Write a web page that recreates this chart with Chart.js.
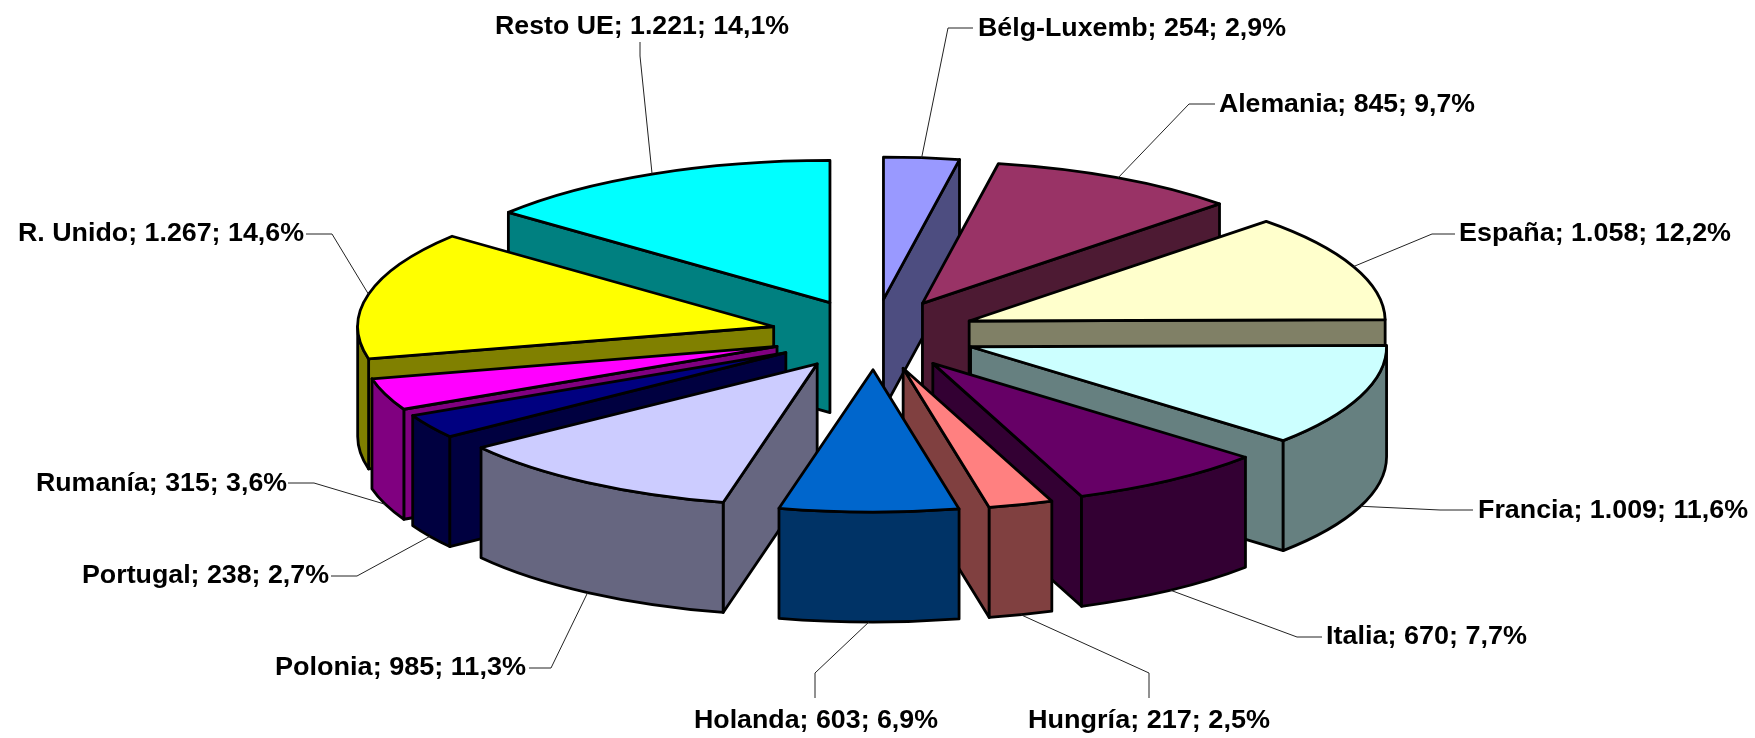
<!DOCTYPE html>
<html>
<head>
<meta charset="utf-8">
<style>html,body{margin:0;padding:0;background:#fff}canvas{display:block}</style>
<script src="https://cdn.jsdelivr.net/npm/chart.js@4"></script>
</head>
<body>
<canvas id="c" width="1755" height="738"></canvas>
<script>
const categories = ["Bélg-Luxemb","Alemania","España","Francia","Italia","Hungría","Holanda","Polonia","Portugal","Rumanía","R. Unido","Resto UE"];
const values = [254,845,1058,1009,670,217,603,985,238,315,1267,1221];
const valueLabels = ["254","845","1.058","1.009","670","217","603","985","238","315","1.267","1.221"];
const percentLabels = ["2,9%","9,7%","12,2%","11,6%","7,7%","2,5%","6,9%","11,3%","2,7%","3,6%","14,6%","14,1%"];
const topColors = ["#9999FF","#993366","#FFFFCC","#CCFFFF","#660066","#FF8080","#0066CC","#CCCCFF","#000080","#FF00FF","#FFFF00","#00FFFF"];
const wallColors = ["#4D4D80","#4D1A33","#808066","#668080","#330033","#804040","#003366","#666680","#000040","#800080","#808000","#008080"];

// 3D view settings
const view = {squash:0.342, depth:110, explode:103, radius:416};
const font = 'bold 26px "Liberation Sans", Arial, sans-serif';

// label placement: text left edge, text mid height, target width, leader elbow, leader end
const labelLayout = [
  {x:978,y:29,w:308,elbow:[948,28],end:[973,28]},
  {x:1219,y:105,w:256,elbow:[1189,104],end:[1215,104]},
  {x:1459,y:234,w:272,elbow:[1432,234],end:[1455,234]},
  {x:1478,y:511,w:270,elbow:[1440,510],end:[1473,510]},
  {x:1326,y:637,w:201,elbow:[1297,637],end:[1322,637]},
  {x:1028,y:721,w:242,elbow:[1149,673],end:[1149,698]},
  {x:694,y:721,w:244,elbow:[815,673],end:[815,698]},
  {x:275,y:668,w:251,elbow:[551,668],end:[529,668]},
  {x:82,y:576,w:247,elbow:[357,576],end:[331,576]},
  {x:36,y:484,w:251,elbow:[314,483],end:[288,483]},
  {x:18,y:234,w:286,elbow:[332,234],end:[306,234]},
  {x:495,y:27,w:294,elbow:[640,56],end:[640,42]}
];

function sliceGeom(arc){
  const mid=(arc.startAngle+arc.endAngle)/2;
  const ox=view.explode*Math.cos(mid), oy=view.explode*Math.sin(mid)*view.squash;
  const cx=arc.x+ox, cy=arc.y+oy, r=arc.outerRadius;
  const pt=(t,z)=>[cx+r*Math.cos(t), cy+r*view.squash*Math.sin(t)+(z||0)];
  return {mid,cx,cy,r,pt};
}
function quad(ctx,a,b,c,d,fill){
  ctx.beginPath();ctx.moveTo(a[0],a[1]);ctx.lineTo(b[0],b[1]);ctx.lineTo(c[0],c[1]);ctx.lineTo(d[0],d[1]);ctx.closePath();
  ctx.fillStyle=fill;ctx.fill();ctx.stroke();
}
const pie3d={
  id:'pie3d',
  beforeDatasetDraw(chart,args){
    const ctx=chart.ctx, arcs=chart.getDatasetMeta(args.index).data;
    const order=arcs.map((a,i)=>i).sort((p,q)=>
      Math.sin((arcs[p].startAngle+arcs[p].endAngle)/2)-Math.sin((arcs[q].startAngle+arcs[q].endAngle)/2));
    ctx.save();
    ctx.lineJoin='round';
    ctx.lineWidth=2.8;
    ctx.strokeStyle='#000';
    for(const i of order){
      const arc=arcs[i], g=sliceGeom(arc), d=view.depth, s=arc.startAngle, e=arc.endAngle, wall=wallColors[i];
      const tip=[g.cx,g.cy], tipB=[g.cx,g.cy+d];
      if(Math.cos(s)<0) quad(ctx,tip,g.pt(s),g.pt(s,d),tipB,wall);
      if(Math.cos(e)>0) quad(ctx,tip,g.pt(e),g.pt(e,d),tipB,wall);
      for(const k of [0,2]){
        const a=Math.max(s,k*Math.PI), b=Math.min(e,(k+1)*Math.PI);
        if(b>a){
          ctx.beginPath();
          ctx.ellipse(g.cx,g.cy,g.r,g.r*view.squash,0,a,b);
          ctx.ellipse(g.cx,g.cy+d,g.r,g.r*view.squash,0,b,a,true);
          ctx.closePath();
          ctx.fillStyle=wall;ctx.fill();ctx.stroke();
        }
      }
      // the library's own arc, tilted into the view plane
      ctx.save();
      ctx.translate(g.cx,g.cy);ctx.scale(1,view.squash);ctx.translate(-arc.x,-arc.y);
      arc.draw(ctx);
      ctx.restore();
      ctx.beginPath();
      ctx.moveTo(g.cx,g.cy);
      ctx.ellipse(g.cx,g.cy,g.r,g.r*view.squash,0,s,e);
      ctx.closePath();
      ctx.stroke();
    }
    // leaders and labels
    ctx.lineWidth=1;ctx.strokeStyle='#222';ctx.fillStyle='#000';
    ctx.font=font;ctx.textBaseline='middle';ctx.textAlign='left';
    arcs.forEach((arc,i)=>{
      const g=sliceGeom(arc), L=labelLayout[i];
      const start=g.pt(g.mid, Math.sin(g.mid)>0?view.depth:0);
      ctx.beginPath();ctx.moveTo(start[0],start[1]);ctx.lineTo(L.elbow[0],L.elbow[1]);ctx.lineTo(L.end[0],L.end[1]);ctx.stroke();
      const text=categories[i]+'; '+valueLabels[i]+'; '+percentLabels[i];
      const tw=ctx.measureText(text).width;
      ctx.save();ctx.translate(L.x,L.y);ctx.scale(L.w/tw,1);ctx.fillText(text,0,0);ctx.restore();
    });
    ctx.restore();
    return false;
  }
};
new Chart(document.getElementById('c'),{
  type:'pie',
  data:{labels:categories,datasets:[{data:values,backgroundColor:topColors,borderWidth:0}]},
  options:{
    responsive:false,animation:false,radius:view.radius,
    layout:{padding:{right:7,bottom:69}},
    plugins:{legend:{display:false},tooltip:{enabled:false}}
  },
  plugins:[pie3d]
});
</script>
</body>
</html>
